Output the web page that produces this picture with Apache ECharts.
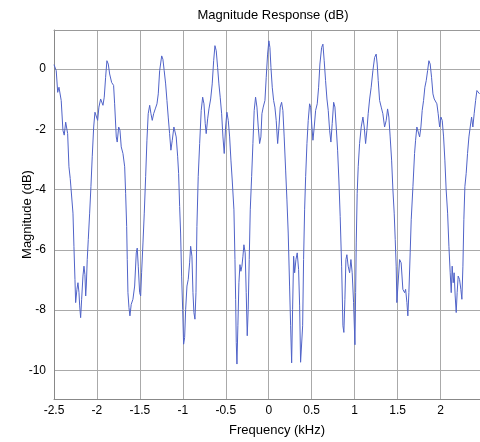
<!DOCTYPE html>
<html>
<head>
<meta charset="utf-8">
<script src="https://cdn.jsdelivr.net/npm/echarts@6/dist/echarts.min.js"></script>
<style>
html,body{margin:0;padding:0;background:#fff;}
#chart{width:480px;height:442px;}
</style>
</head>
<body>
<div id="chart"></div>
<script>
var freq = [-2.500,-2.492,-2.474,-2.457,-2.442,-2.427,-2.416,-2.396,-2.381,-2.364,-2.349,-2.341,-2.326,-2.311,-2.294,-2.279,-2.268,-2.256,-2.248,-2.233,-2.221,-2.209,-2.201,-2.190,-2.178,-2.163,-2.151,-2.140,-2.131,-2.124,-2.113,-2.101,-2.085,-2.070,-2.055,-2.038,-2.023,-2.008,-1.992,-1.977,-1.957,-1.942,-1.930,-1.915,-1.899,-1.884,-1.868,-1.852,-1.829,-1.806,-1.794,-1.775,-1.764,-1.747,-1.732,-1.717,-1.697,-1.677,-1.666,-1.654,-1.647,-1.639,-1.627,-1.616,-1.601,-1.581,-1.561,-1.542,-1.531,-1.519,-1.503,-1.491,-1.480,-1.464,-1.449,-1.433,-1.418,-1.403,-1.386,-1.371,-1.356,-1.340,-1.321,-1.301,-1.286,-1.270,-1.246,-1.232,-1.217,-1.200,-1.185,-1.170,-1.154,-1.139,-1.123,-1.104,-1.095,-1.077,-1.060,-1.049,-1.037,-1.026,-1.014,-1.002,-0.991,-0.979,-0.967,-0.952,-0.937,-0.921,-0.909,-0.894,-0.882,-0.871,-0.859,-0.847,-0.836,-0.821,-0.804,-0.786,-0.769,-0.754,-0.739,-0.728,-0.711,-0.696,-0.676,-0.658,-0.641,-0.626,-0.611,-0.595,-0.580,-0.565,-0.548,-0.533,-0.518,-0.502,-0.487,-0.471,-0.455,-0.440,-0.425,-0.405,-0.393,-0.385,-0.378,-0.370,-0.359,-0.347,-0.335,-0.324,-0.312,-0.300,-0.289,-0.274,-0.262,-0.250,-0.239,-0.227,-0.215,-0.199,-0.184,-0.169,-0.153,-0.137,-0.122,-0.106,-0.091,-0.079,-0.064,-0.044,-0.029,-0.013,0.002,0.014,0.026,0.041,0.057,0.072,0.087,0.104,0.119,0.134,0.150,0.165,0.180,0.197,0.212,0.227,0.243,0.255,0.267,0.278,0.290,0.302,0.317,0.332,0.348,0.360,0.371,0.383,0.395,0.406,0.418,0.430,0.445,0.460,0.476,0.488,0.503,0.515,0.530,0.546,0.565,0.581,0.596,0.616,0.631,0.646,0.662,0.678,0.693,0.709,0.724,0.739,0.756,0.771,0.786,0.802,0.817,0.832,0.849,0.864,0.875,0.887,0.899,0.910,0.925,0.942,0.957,0.972,0.988,1.004,1.012,1.019,1.030,1.042,1.058,1.077,1.097,1.112,1.128,1.143,1.158,1.175,1.193,1.213,1.233,1.251,1.263,1.275,1.291,1.310,1.329,1.349,1.368,1.384,1.399,1.414,1.431,1.446,1.461,1.473,1.484,1.492,1.504,1.524,1.542,1.562,1.582,1.594,1.609,1.620,1.632,1.647,1.659,1.679,1.698,1.710,1.725,1.740,1.757,1.772,1.787,1.803,1.818,1.834,1.850,1.865,1.880,1.896,1.912,1.927,1.943,1.958,1.973,1.990,2.005,2.020,2.036,2.051,2.066,2.083,2.098,2.113,2.125,2.136,2.148,2.159,2.171,2.183,2.194,2.206,2.222,2.237,2.249,2.261,2.272,2.284,2.299,2.315,2.331,2.346,2.362,2.377,2.392,2.409,2.424,2.439,2.455];
var mag = [0.15,0.12,-0.05,-0.77,-0.60,-0.66,-1.04,-2.03,-2.19,-1.76,-1.81,-2.14,-3.24,-3.63,-3.68,-4.78,-5.88,-6.98,-7.75,-7.31,-7.09,-7.42,-7.86,-8.25,-7.64,-6.87,-6.54,-6.82,-7.53,-7.20,-6.32,-5.66,-4.78,-3.90,-2.91,-1.92,-1.43,-1.37,-1.70,-1.26,-0.99,-1.04,-1.20,-0.93,-0.27,0.28,0.17,-0.16,-0.44,-0.54,-1.15,-2.25,-2.42,-1.92,-2.03,-2.58,-2.80,-3.24,-4.12,-5.22,-6.32,-7.42,-7.92,-8.19,-7.81,-7.64,-7.20,-6.10,-5.94,-6.54,-7.42,-7.53,-6.76,-5.77,-4.78,-3.57,-2.36,-1.48,-1.20,-1.48,-1.70,-1.48,-1.32,-1.15,-0.82,-0.05,0.44,0.33,-0.05,-0.49,-1.04,-1.59,-2.14,-2.69,-2.36,-1.92,-1.86,-2.25,-2.91,-3.46,-4.56,-5.44,-6.87,-7.97,-9.13,-8.91,-7.97,-7.20,-6.98,-6.43,-5.88,-6.21,-7.42,-8.08,-8.30,-7.42,-5.22,-3.57,-2.47,-1.37,-0.93,-1.15,-1.81,-2.14,-1.65,-1.32,-0.99,-0.49,0.28,0.78,0.61,0.06,-0.49,-0.93,-1.48,-2.25,-2.80,-1.92,-1.43,-1.70,-2.25,-3.02,-3.68,-4.67,-6.32,-7.64,-9.07,-9.79,-8.52,-7.09,-6.49,-6.71,-6.54,-6.21,-5.83,-6.10,-7.42,-8.85,-7.97,-6.32,-4.67,-3.57,-2.47,-1.37,-0.93,-1.26,-1.92,-2.47,-2.25,-1.48,-1.26,-1.04,-0.27,0.50,0.94,0.72,0.06,-0.60,-1.04,-1.26,-1.70,-2.47,-1.92,-1.26,-1.10,-1.37,-2.25,-3.35,-4.34,-5.44,-7.20,-8.52,-9.75,-7.97,-6.21,-6.76,-6.32,-6.10,-6.65,-7.86,-9.73,-9.77,-8.52,-6.32,-4.67,-3.57,-2.47,-1.70,-1.15,-1.26,-1.92,-2.36,-1.92,-1.37,-1.15,-0.60,0.17,0.72,0.83,0.28,-0.38,-0.99,-1.37,-2.03,-2.42,-1.81,-1.10,-1.26,-1.92,-2.69,-3.68,-4.89,-6.54,-8.52,-8.74,-7.64,-6.32,-6.16,-6.54,-6.76,-6.32,-6.76,-7.75,-9.15,-7.42,-5.77,-4.12,-3.24,-2.47,-1.92,-1.59,-1.92,-2.47,-2.03,-1.48,-0.99,-0.60,-0.05,0.39,0.50,0.17,-0.38,-1.04,-1.26,-1.48,-1.92,-1.70,-1.32,-1.59,-2.25,-3.02,-4.01,-4.78,-5.66,-6.54,-7.75,-7.20,-6.32,-6.43,-7.31,-7.42,-7.31,-7.75,-8.19,-7.42,-6.10,-5.00,-3.90,-2.80,-2.36,-1.92,-1.86,-2.25,-1.92,-1.37,-1.04,-0.60,-0.38,-0.05,0.28,0.17,-0.27,-0.82,-0.99,-0.93,-1.15,-1.48,-1.92,-1.59,-1.70,-2.25,-3.02,-4.01,-4.78,-5.88,-6.76,-7.42,-6.54,-7.09,-6.76,-7.53,-8.08,-7.42,-6.87,-6.98,-7.31,-7.64,-6.54,-5.00,-3.90,-3.46,-2.80,-2.25,-1.92,-1.59,-1.92,-1.48,-1.04,-0.71,-0.71,-0.82];
var xTicks = [-2.5,-2,-1.5,-1,-0.5,0,0.5,1,1.5,2];
var yTicks = [-10,-8,-6,-4,-2,0];

var points = freq.map(function(f,i){ return [f, mag[i]]; });
var chart = echarts.init(document.getElementById('chart'), null, {renderer:'canvas'});
var font = '"Liberation Sans", Arial, Helvetica, sans-serif';
chart.setOption({
  animation: false,
  backgroundColor: '#ffffff',
  title: {
    text: 'Magnitude Response (dB)',
    left: 268, top: 4, textAlign: 'center',
    textStyle: {fontFamily: font, fontSize: 13, fontWeight: 'normal', color: '#000'}
  },
  grid: {left: 54, right: 0, top: 30, bottom: 41, containLabel: false},
  xAxis: [{
    type: 'value', min: -2.5, max: 2.46, position: 'bottom',
    name: 'Frequency (kHz)', nameLocation: 'middle', nameGap: 25, nameMoveOverlap: false,
    nameTextStyle: {fontFamily: font, fontSize: 13, color: '#000', padding: [0,0,0,20]},
    axisLine: {show: true, onZero: false, lineStyle: {color: '#888', width: 1}},
    axisTick: {show: false, customValues: xTicks},
    axisLabel: {customValues: xTicks, fontFamily: font, fontSize: 12, color: '#000', margin: 6},
    splitLine: {show: true, lineStyle: {color: '#aaaaaa', width: 1}}
  },{
    type: 'value', min: -2.5, max: 2.46, position: 'top',
    axisLine: {show: true, onZero: false, lineStyle: {color: '#999999', width: 1}},
    axisTick: {show: false}, axisLabel: {show: false}, splitLine: {show: false}
  }],
  yAxis: {
    type: 'value', min: -10.95, max: 1.3,
    name: 'Magnitude (dB)', nameLocation: 'middle', nameGap: 20, nameMoveOverlap: false,
    nameTextStyle: {fontFamily: font, fontSize: 13, color: '#000'},
    axisLine: {show: true, onZero: false, lineStyle: {color: '#888', width: 1}},
    axisTick: {show: false, customValues: yTicks},
    axisLabel: {customValues: yTicks, fontFamily: font, fontSize: 12, color: '#000', margin: 8},
    splitLine: {show: true, lineStyle: {color: '#aaaaaa', width: 1}}
  },
  series: [{
    type: 'line', xAxisIndex: 0, data: points, showSymbol: false, smooth: false,
    lineStyle: {color: '#5063c8', width: 1}, silent: true
  }]
});
</script>
</body>
</html>
